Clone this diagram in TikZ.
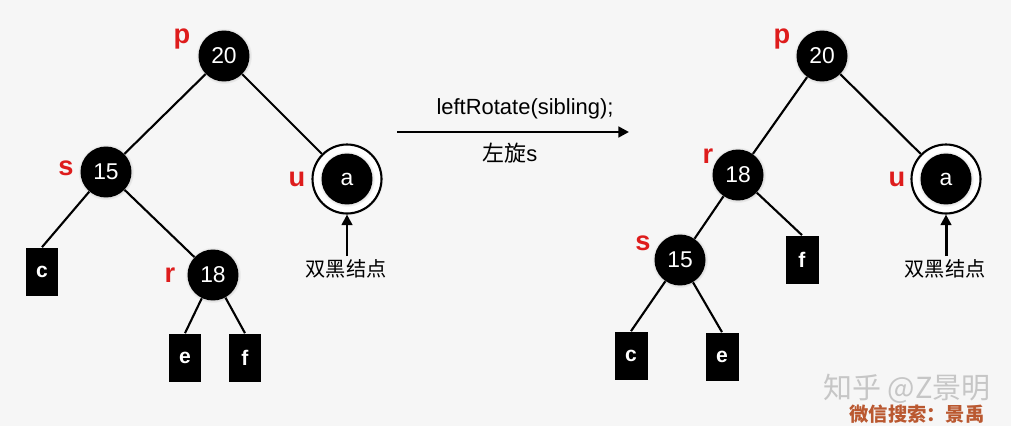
\documentclass[tikz,border=0pt]{standalone}
\usepackage{fontspec}
\setmainfont{Liberation Sans}
\newfontfamily\cjk{Noto Sans CJK SC}
\usetikzlibrary{shadows,arrows.meta}
\definecolor{bgcol}{RGB}{246,246,246}
\definecolor{tagred}{RGB}{222,28,28}
\definecolor{wmbrown}{RGB}{186,88,48}
\definecolor{wmgray}{RGB}{198,198,198}

\tikzset{
	bnode/.style={circle,fill=black,text=white,minimum size=1.02cm,inner sep=0,
		font=\fontsize{13}{14}\selectfont,
		circular drop shadow={shadow xshift=0pt,shadow yshift=0pt,shadow scale=1.1,opacity=.3}},
	leaf/.style={rectangle,fill=black,text=white,minimum width=0.66cm,minimum height=0.98cm,
		inner sep=0,font=\bfseries\fontsize{12}{14}\selectfont},
	dring/.style={circle,draw,line width=1.2pt,fill=white,minimum size=1.38cm,inner sep=0,
		circular drop shadow={shadow xshift=0pt,shadow yshift=0pt,shadow scale=1.06,opacity=.3}},
	tag/.style={text=tagred,font=\bfseries\fontsize{15.5}{16}\selectfont},
	edge/.style={line width=1.2pt},
	pointer/.style={line width=1.7pt,-{Triangle[length=6pt,width=6pt]}},
	note/.style={font=\cjk\fontsize{11.5}{13}\selectfont}
}

\begin{document}
\begin{tikzpicture}[x=0.02cm,y=-0.02cm]
	% background
	\fill[bgcol] (0,0) rectangle (1011,426);
	\useasboundingbox (0,0) rectangle (1011,426);

	% left tree
	\node[bnode] (lp) at (224,56) {20};
	\node[bnode] (ls) at (106,172) {15};
	\node[bnode] (lr) at (213,275) {18};
	\node[dring] (lur) at (347,179) {};
	\node[bnode] (lu) at (347,179) {a};
	\node[leaf] (lc) at (42,272) {c};
	\node[leaf] (le) at (185,358) {e};
	\node[leaf] (lf) at (245,358) {f};
	\draw[edge] (lp) -- (ls);
	\draw[edge] (lp) -- (lur);
	\draw[edge] (ls) -- (lc.north);
	\draw[edge] (ls) -- (lr);
	\draw[edge] (lr) -- (le.north);
	\draw[edge] (lr) -- (lf.north);

	% left labels
	\node[tag] at (182,39) {p};
	\node[tag] at (66,168) {s};
	\node[tag] at (170,275) {r};
	\node[tag] at (297,179) {u};
	\coordinate (lua) at (347,256);
	\draw[pointer] (lua) -- (lur.south);
	\node[note] (lnote) at (346,269) {双黑结点};

	% rotation arrow
	\coordinate (ra) at (397,132);
	\coordinate (rb) at (629,132);
	\draw[pointer] (ra) -- (rb);
	\node[font=\fontsize{12.5}{14}\selectfont] (rtop) at (525,109) {leftRotate(sibling);};
	\node[font=\fontsize{12.5}{14}\selectfont] (rbot) at (510,153) {{\cjk 左旋}s};

	% right tree
	\node[bnode] (rp) at (822,56) {20};
	\node[bnode] (rr) at (738,175) {18};
	\node[bnode] (rs) at (680,260) {15};
	\node[dring] (rur) at (946,179) {};
	\node[bnode] (ru) at (946,179) {a};
	\node[leaf] (rf) at (802,260) {f};
	\node[leaf] (rc) at (631,356) {c};
	\node[leaf] (re) at (722,357) {e};
	\draw[edge] (rp) -- (rr);
	\draw[edge] (rp) -- (rur);
	\draw[edge] (rr) -- (rs);
	\draw[edge] (rr) -- (rf.north);
	\draw[edge] (rs) -- (rc.north);
	\draw[edge] (rs) -- (re.north);

	% right labels
	\node[tag] at (782,39) {p};
	\node[tag] at (708,156) {r};
	\node[tag] at (643,243) {s};
	\node[tag] at (897,179) {u};
	\coordinate (rua) at (946,256);
	\draw[pointer] (rua) -- (rur.south);
	\node[note] (rnote) at (945,269) {双黑结点};

	% watermark
	\node[inner sep=0,text=wmgray,font=\cjk\fontsize{16.5}{18}\selectfont] (wm) at (907,389) {知乎 @Z景明};
	\node[inner sep=0,text=wmbrown,font=\cjk\bfseries\fontsize{11}{13}\selectfont] (wm2) at (917,414) {微信搜索：景禹};
\end{tikzpicture}
\end{document}
